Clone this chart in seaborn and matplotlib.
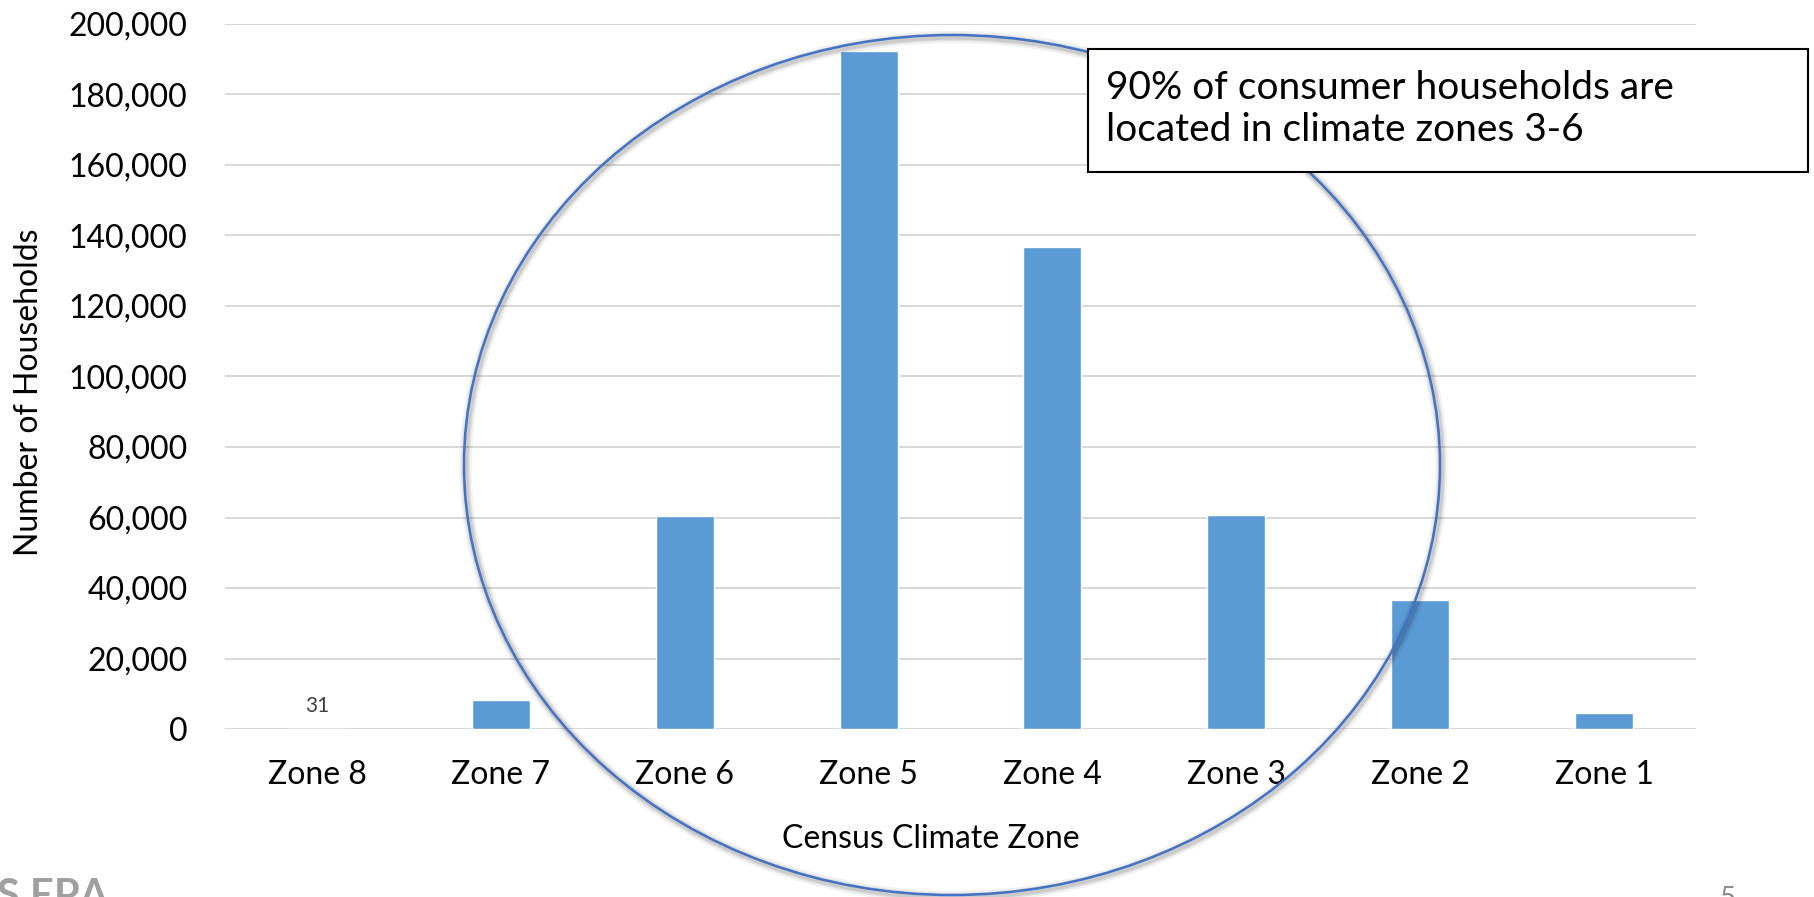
import matplotlib
matplotlib.use("Agg")
import matplotlib.pyplot as plt
from matplotlib.patches import Ellipse, Rectangle
from matplotlib.ticker import FuncFormatter
import seaborn as sns
import pandas as pd

# Households by census climate zone
zones = ["Zone 8", "Zone 7", "Zone 6", "Zone 5", "Zone 4", "Zone 3", "Zone 2", "Zone 1"]
households = [31, 8100, 60400, 192300, 136800, 60600, 36600, 4400]
y_ticks = [0, 20000, 40000, 60000, 80000, 100000, 120000, 140000, 160000, 180000, 200000]

note_text = "90% of consumer households are\nlocated in climate zones 3-6"

sns.set_theme(style="white")
plt.rcParams["font.family"] = ["Lato", "DejaVu Sans"]

W, H = 1814, 897
fig = plt.figure(figsize=(W / 100, H / 100), dpi=100)
ax = fig.add_axes([225 / W, 1 - 729 / H, (1696 - 225) / W, (729 - 24) / H])

df = pd.DataFrame({"zone": zones, "households": households})
sns.barplot(data=df, x="zone", y="households", order=zones, color="#5B9BD5",
            saturation=1, width=0.315, ax=ax, zorder=3)

ax.set_ylim(0, 200000)
ax.set_yticks(y_ticks)
ax.yaxis.set_major_formatter(FuncFormatter(lambda v, _: f"{int(v):,}"))
ax.grid(axis="y", color="#D9D9D9", linewidth=1.5, zorder=0)
ax.grid(axis="x", visible=False)
for s in ax.spines.values():
    s.set_visible(False)
ax.tick_params(axis="both", length=0, labelsize=23, colors="black")
ax.tick_params(axis="y", pad=27)
ax.tick_params(axis="x", pad=22)

ax.set_xlabel("Census Climate Zone", fontsize=23, color="black")
ax.set_ylabel("Number of Households", fontsize=23, color="black")
ax.xaxis.set_label_coords((931 - 225) / (1696 - 225), -(824 - 729) / (729 - 24))
ax.yaxis.set_label_coords(-(225 - 44) / (1696 - 225), (729 - 392) / (729 - 24))

# data label for the tiny Zone 8 bar
container = ax.containers[0]
labels = [f"{households[0]:,}"] + [""] * (len(zones) - 1)
ax.bar_label(container, labels=labels, padding=9, fontsize=15, color="#404040")

# highlight ellipse around the central zones, with a soft shadow
cx, cy, ew, eh = 952 / W, 1 - 465 / H, 976 / W, 860 / H
for lw, a in [(9, 0.05), (6, 0.07), (4, 0.09)]:
    fig.add_artist(Ellipse((cx + 1.5 / W, cy - 2 / H), ew, eh, transform=fig.transFigure,
                           fill=False, edgecolor="black", alpha=a, linewidth=lw, zorder=4))
fig.add_artist(Ellipse((cx, cy), ew, eh, transform=fig.transFigure, fill=False,
                       edgecolor="#4472C4", linewidth=1.8, zorder=5))

# callout box
bx0, by0, bx1, by1 = 1088, 49, 1808, 172
fig.add_artist(Rectangle((bx0 / W, 1 - by1 / H), (bx1 - bx0) / W, (by1 - by0) / H,
                         transform=fig.transFigure, facecolor="white", edgecolor="black",
                         linewidth=1.5, zorder=6))
fig.text((bx0 + 18) / W, 1 - (by0 + 60) / H, note_text, fontsize=28, color="black",
         ha="left", va="center", linespacing=1.22, zorder=7)

# footer elements
fig.text(108 / W, 1 - 878 / H, "US EPA", fontsize=30, fontweight="bold", color="#A0A0A0",
         ha="right", va="top")
fig.text(1719 / W, 1 - 886 / H, "5", fontsize=20, color="#8C8C8C", ha="left", va="top")

fig.savefig("out.png", dpi=100)
